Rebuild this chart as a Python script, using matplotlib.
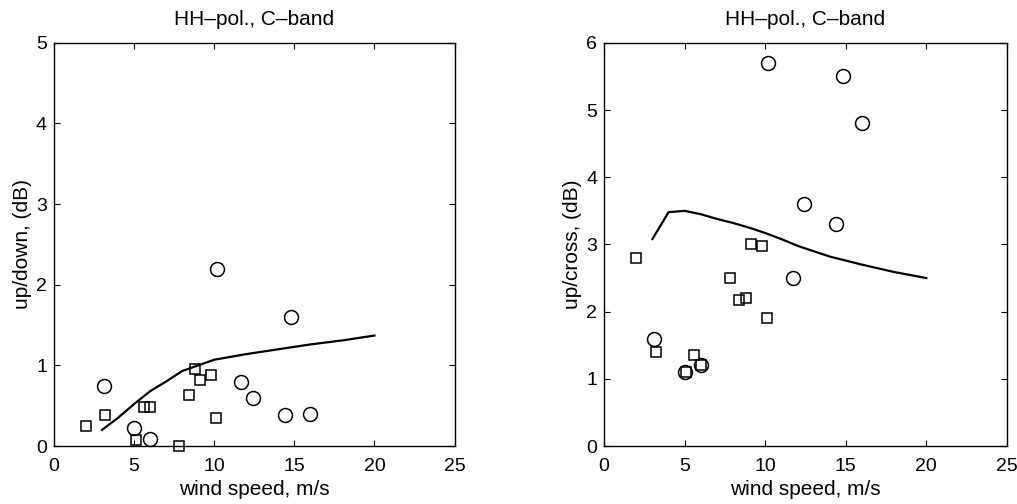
import matplotlib
matplotlib.use("Agg")
import matplotlib.pyplot as plt

plt.rcParams['font.family'] = ['Liberation Sans', 'DejaVu Sans']

# circle data (same wind speeds in both panels)
circ_wind = [3.1, 5.0, 6.0, 10.2, 11.7, 12.4, 14.4, 14.8, 16.0]
circ_updown = [0.75, 0.22, 0.09, 2.2, 0.8, 0.6, 0.38, 1.6, 0.4]
circ_upcross = [1.6, 1.1, 1.2, 5.7, 2.5, 3.6, 3.3, 5.5, 4.8]

# square data
sq_wind = [2.0, 3.2, 5.1, 5.6, 6.0, 7.8, 8.4, 8.8, 9.1, 9.8, 10.1]
sq_updown = [0.25, 0.38, 0.08, 0.48, 0.48, 0.0, 0.63, 0.96, 0.82, 0.88, 0.35]
sq_upcross = [2.8, 1.4, 1.1, 1.35, 1.2, 2.5, 2.17, 2.2, 3.0, 2.97, 1.9]

# model curves
model_wind_ud = [3, 4, 5, 6, 7, 8, 9, 10, 12, 14, 16, 18, 20]
model_updown = [0.2, 0.35, 0.52, 0.68, 0.8, 0.93, 1.0, 1.07, 1.14, 1.2, 1.26, 1.31, 1.37]
model_wind_uc = [3, 4, 5, 6, 7, 8, 9, 10, 11, 12, 14, 16, 18, 20]
model_upcross = [3.08, 3.48, 3.5, 3.45, 3.38, 3.32, 3.25, 3.17, 3.08, 2.98, 2.82, 2.7, 2.59, 2.5]

fig = plt.figure(figsize=(10.17, 5.04), dpi=100)
ax1 = fig.add_axes([0.053, 0.115, 0.394, 0.80])
ax2 = fig.add_axes([0.594, 0.115, 0.396, 0.80])

panels = [
    (ax1, circ_updown, sq_updown, model_wind_ud, model_updown, 'up/down, (dB)', 5),
    (ax2, circ_upcross, sq_upcross, model_wind_uc, model_upcross, 'up/cross, (dB)', 6),
]

for ax, cy, sy, mx, my, ylab, ymax in panels:
    ax.plot(mx, my, color='black', lw=1.6)
    ax.plot(circ_wind, cy, 'o', mfc='none', mec='black', ms=10, mew=1.1, clip_on=False)
    ax.plot(sq_wind, sy, 's', mfc='none', mec='black', ms=7.5, mew=1.1, clip_on=False)
    ax.set_xlim(0, 25)
    ax.set_ylim(0, ymax)
    ax.set_xticks([0, 5, 10, 15, 20, 25])
    ax.set_yticks(range(0, ymax + 1))
    ax.tick_params(direction='in', top=True, right=True, labelsize=14, length=4)
    ax.tick_params(axis='x', pad=8.5)
    ax.tick_params(axis='y', pad=5)
    ax.set_xlabel('wind speed, m/s', fontsize=15, labelpad=3.5)
    ax.set_ylabel(ylab, fontsize=15, labelpad=3)
    ax.set_title('HH\u2013pol., C\u2013band', fontsize=15, pad=13)
    for s in ax.spines.values():
        s.set_linewidth(1.0)

fig.savefig('out.png', dpi=100)
